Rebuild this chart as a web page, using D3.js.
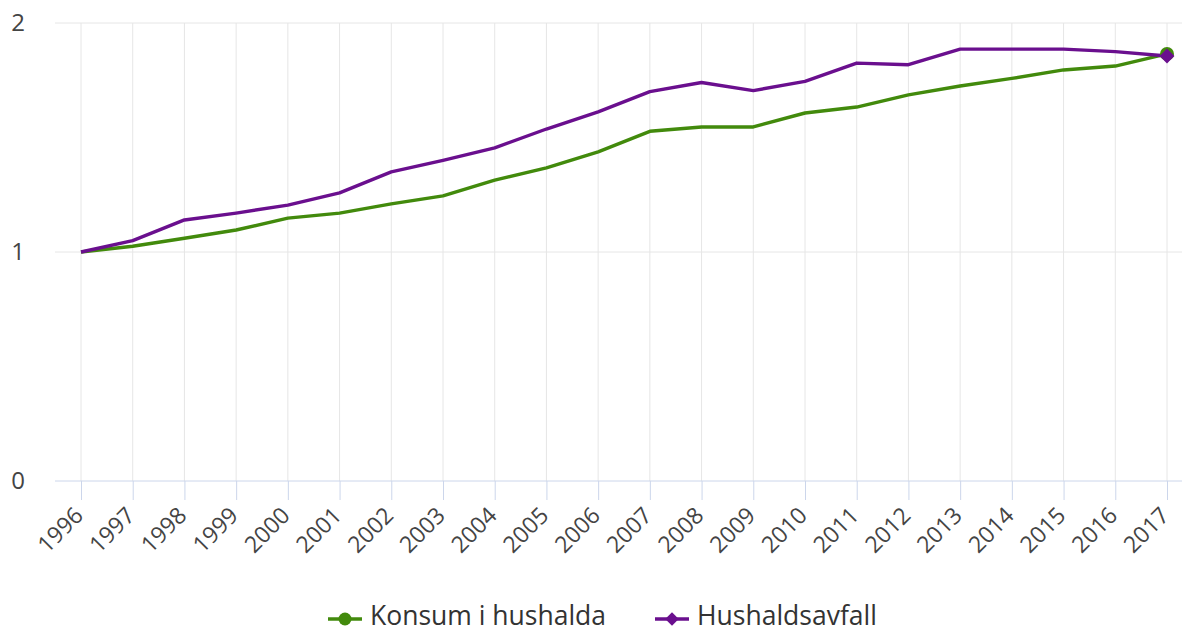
<!DOCTYPE html>
<html><head><meta charset="utf-8">
<script src="https://cdn.jsdelivr.net/npm/d3@7"></script>
<style>body{margin:0;background:#fff;}svg{display:block;}text{font-family:"Open Sans",sans-serif;}</style>
</head><body><svg id="c" width="1182" height="633"></svg>
<script>
const years = ["1996","1997","1998","1999","2000","2001","2002","2003","2004","2005","2006","2007","2008","2009","2010","2011","2012","2013","2014","2015","2016","2017"];
const konsum = [1.0,1.025,1.06,1.096,1.148,1.17,1.21,1.245,1.314,1.367,1.437,1.527,1.546,1.546,1.607,1.633,1.686,1.725,1.758,1.795,1.812,1.865];
const avfall = [1.0,1.05,1.14,1.17,1.205,1.258,1.35,1.40,1.455,1.537,1.612,1.70,1.74,1.705,1.745,1.825,1.818,1.886,1.886,1.886,1.875,1.856];
const yTicks = [0,1,2];
const seriesNames = ["Konsum i hushalda","Hushaldsavfall"];
const colors = ["#428a0c","#6a0f8e"];
const FONT = "'Open Sans', sans-serif";

const svg = d3.select("#c");
const x = d3.scalePoint().domain(years).range([81,1167]);
const y = d3.scaleLinear().domain([0,2]).range([481,23]);
const plotL = 55, plotR = 1182;

// horizontal grid
svg.append("g").selectAll("line").data(yTicks.filter(d=>d>0)).join("line")
  .attr("x1",plotL).attr("x2",plotR).attr("y1",d=>y(d)).attr("y2",d=>y(d))
  .attr("stroke","#e6e6e6").attr("stroke-width",1);
// vertical grid
svg.append("g").selectAll("line").data(years).join("line")
  .attr("x1",d=>x(d)).attr("x2",d=>x(d)).attr("y1",y(2)).attr("y2",y(0))
  .attr("stroke","#e6e6e6").attr("stroke-width",1);

// x axis
const xa = svg.append("g").attr("transform",`translate(0,${y(0)})`)
  .call(d3.axisBottom(x).tickSize(19).tickPadding(6));
xa.attr("font-family",FONT);
xa.select(".domain").remove();
svg.append("line").attr("x1",plotL).attr("x2",plotR).attr("y1",y(0)).attr("y2",y(0)).attr("stroke","#ccd6eb");
xa.selectAll(".tick line").attr("stroke","#ccd6eb");
xa.selectAll(".tick text").attr("fill","#444").attr("font-size",23)
  .attr("text-anchor","end").attr("dy","0")
  .attr("transform","translate(3,36) rotate(-45)").attr("y",0).attr("x",0);

// y axis
const ya = svg.append("g").attr("transform",`translate(${plotL},0)`)
  .call(d3.axisLeft(y).tickValues(yTicks).tickFormat(d3.format("d")).tickSize(0).tickPadding(30));
ya.attr("font-family",FONT);
ya.select(".domain").remove();
ya.selectAll(".tick text").attr("fill","#444").attr("font-size",24).attr("dy","0.3em");

// lines
const line = d3.line().x((d,i)=>x(years[i])).y(d=>y(d));
[konsum,avfall].forEach((s,k)=>{
  svg.append("path").datum(s).attr("d",line).attr("fill","none")
    .attr("stroke",colors[k]).attr("stroke-width",3.4).attr("stroke-linejoin","round");
});
// end markers
const last = years.length-1;
const diamond = d3.symbol(d3.symbolSquare,110)();
svg.append("circle").attr("cx",x(years[last])).attr("cy",y(konsum[last])).attr("r",7).attr("fill",colors[0]);
svg.append("path").attr("d",diamond)
  .attr("transform",`translate(${x(years[last])},${y(avfall[last])}) rotate(45)`).attr("fill",colors[1]);

// legend
const lg = svg.append("g");
const items = [{x:328},{x:655}];
seriesNames.forEach((n,k)=>{
  const g = lg.append("g").attr("transform",`translate(${items[k].x},619)`);
  g.append("line").attr("x1",0).attr("x2",34).attr("y1",0).attr("y2",0).attr("stroke",colors[k]).attr("stroke-width",3.4);
  if(k===0) g.append("circle").attr("cx",17).attr("cy",0).attr("r",6.5).attr("fill",colors[k]);
  else g.append("path").attr("d",d3.symbol(d3.symbolSquare,90)()).attr("transform","translate(17,0) rotate(45)").attr("fill",colors[k]);
  g.append("text").attr("x",42).attr("y",6).attr("font-size",26.5).attr("fill","#333").attr("font-family",FONT).text(n);
});
</script></body></html>
